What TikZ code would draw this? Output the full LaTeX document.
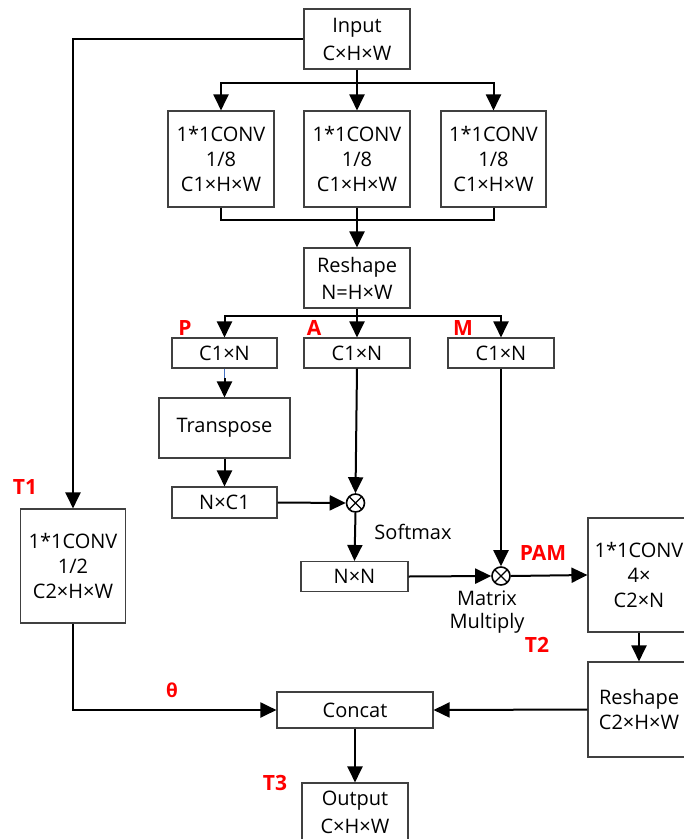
\documentclass[tikz,border=0pt]{standalone}
\usepackage{fontspec}
\setmainfont{Open Sans}
\usetikzlibrary{arrows.meta}
\definecolor{boxline}{HTML}{404040}
\definecolor{labred}{HTML}{FF0000}
\definecolor{tickblue}{HTML}{4472C4}
\tikzset{
  box/.style={draw=boxline, line width=1.1pt, fill=white, align=center, inner sep=0pt,
    font=\fontsize{20}{25}\selectfont},
  conn/.style={line width=2pt, -{Triangle[width=15pt,length=16pt]}},
  plain/.style={line width=2pt},
  lab/.style={text=labred, font=\fontsize{21}{23}\selectfont\bfseries, inner sep=0pt},
  note/.style={font=\fontsize{20}{25}\selectfont, inner sep=0pt, align=center},
  mult/.style={circle, draw, line width=1.6pt, minimum size=18pt, inner sep=0pt,
    path picture={\draw[line width=1.3pt] (path picture bounding box.north west) -- (path picture bounding box.south east)
      (path picture bounding box.north east) -- (path picture bounding box.south west);}}
}
\begin{document}
\begin{tikzpicture}[x=1pt,y=-1pt]
\clip (0,0) rectangle (684,839);
\fill[white] (0,0) rectangle (684,839);

% boxes
\node[box, minimum width=106pt, minimum height=60pt, font=\fontsize{20}{28}\selectfont] (in) at (357,39) {Input\\C×H×W};
\node[box, minimum width=106pt, minimum height=96pt] (c1) at (221,159) {1*1CONV\\1/8\\C1×H×W};
\node[box, minimum width=106pt, minimum height=96pt] (c2) at (357,159) {1*1CONV\\1/8\\C1×H×W};
\node[box, minimum width=105pt, minimum height=96pt] (c3) at (493.5,159) {1*1CONV\\1/8\\C1×H×W};
\node[box, minimum width=106pt, minimum height=60pt, font=\fontsize{20}{27}\selectfont] (rs) at (357,278) {Reshape\\N=H×W};
\node[box, minimum width=105pt, minimum height=30pt] (p) at (224.5,353) {C1×N};
\node[box, minimum width=106pt, minimum height=30pt] (a) at (357,353) {C1×N};
\node[box, minimum width=106pt, minimum height=30pt] (m) at (501,353) {C1×N};
\node[box, minimum width=131pt, minimum height=60pt] (tr) at (224.5,428) {Transpose};
\node[box, minimum width=105pt, minimum height=31pt] (nc) at (224.5,502.5) {N×C1};
\node[mult] (o1) at (355.5,503) {};
\node[box, minimum width=107pt, minimum height=30pt] (nn) at (354.5,576.5) {N×N};
\node[mult] (o2) at (501,576) {};
\node[box, minimum width=102pt, minimum height=114pt] (cv) at (639,575) {1*1CONV\\4×\\C2×N};
\node[box, minimum width=102pt, minimum height=95pt] (rs2) at (639,709.5) {Reshape\\C2×H×W};
\node[box, minimum width=105pt, minimum height=114pt] (t1c) at (73,566) {1*1CONV\\1/2\\C2×H×W};
\node[box, minimum width=156pt, minimum height=36pt] (cc) at (355,710) {Concat};
\node[box, minimum width=106pt, minimum height=58pt, font=\fontsize{20}{28}\selectfont] (out) at (355,812) {Output\\C×H×W};

% bus points
\coordinate (b1) at (357,83);
\coordinate (b2) at (357,220);
\coordinate (b3) at (357,316);
\coordinate (pt) at (224.5,378);

% connectors
\draw[conn] (in.west) -| (t1c.north);
\draw[conn] (in.south) -- (c2.north);
\draw[conn] (b1) -| (c1.north);
\draw[conn] (b1) -| (c3.north);
\draw[plain] (c1.south) |- (b2);
\draw[plain] (c3.south) |- (b2);
\draw[conn] (c2.south) -- (rs.north);
\draw[conn] (rs.south) -- (a.north);
\draw[conn] (b3) -| (p.north);
\draw[conn] (b3) -| (m.north);
\draw[line width=1.2pt, tickblue] (p.south) -- (pt);
\draw[conn] (pt) -- (tr.north);
\draw[conn] (tr.south) -- (nc.north);
\draw[conn] (nc.east) -- (o1.west);
\draw[conn] (a.south) -- (o1.north);
\draw[conn] (o1.south) -- (nn.north);
\draw[conn] (nn.east) -- (o2.west);
\draw[conn] (m.south) -- (o2.north);
\draw[conn] (o2.east) -- (cv.west);
\draw[conn] (cv.south) -- (rs2.north);
\draw[conn] (rs2.west) -- (cc.east);
\draw[conn] (t1c.south) |- (cc.west);
\draw[conn] (cc.south) -- (out.north);

% labels
\node[lab] (lp) at (185,328) {P};
\node[lab] (la) at (314,328) {A};
\node[lab] (lm) at (463,328) {M};
\node[lab] (lt1) at (25,487) {T1};
\node[lab] (lpam) at (543,553) {PAM};
\node[lab] (lt2) at (537,645) {T2};
\node[lab] (lt3) at (275,783) {T3};
\node[text=labred, font=\fontsize{19}{21}\selectfont\bfseries, inner sep=0pt] (lth) at (172,690) {θ};
\node[note] (sm) at (413,532) {Softmax};
\node[note] (mm1) at (487,598) {Matrix};
\node[note] (mm2) at (487,623) {Multiply};
\end{tikzpicture}
\end{document}
